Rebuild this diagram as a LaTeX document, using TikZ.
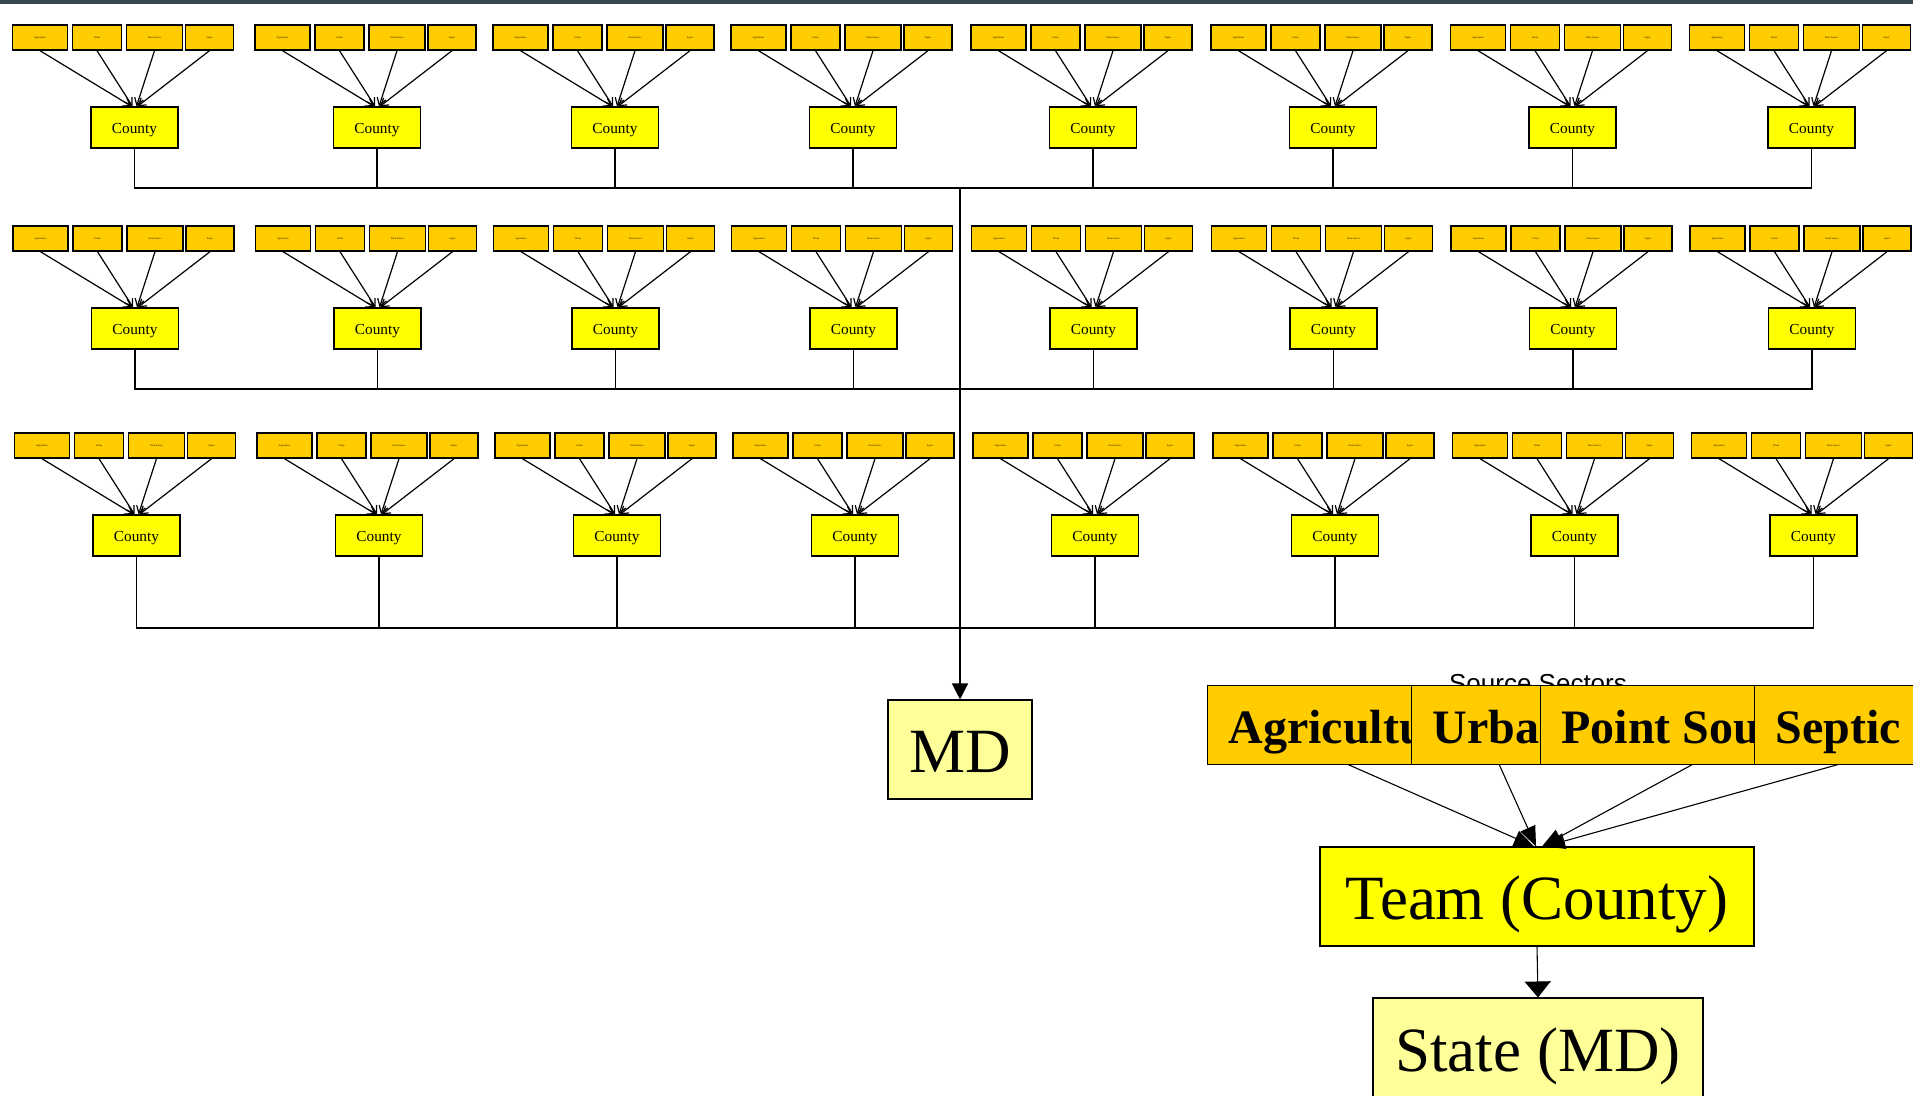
\documentclass[tikz,border=0pt]{standalone}
\usepackage{fontspec}
\setmainfont{Liberation Serif}
\newfontfamily\sansf{Liberation Sans}
\usetikzlibrary{arrows.meta}
\definecolor{gold}{HTML}{FFCC00}
\definecolor{yel}{HTML}{FFFF00}
\definecolor{paleyel}{HTML}{FFFF99}
\definecolor{topbar}{HTML}{37474F}
\begin{document}
\begin{tikzpicture}[x=1pt,y=-1pt,
  sbox/.style={draw,fill=gold,line width=1.4,inner sep=0,minimum height=25,font=\fontsize{2.5}{3}\selectfont},
  cbox/.style={draw,fill=yel,line width=1.4,inner sep=0,minimum width=87,text height=26,text depth=15,font=\fontsize{15.3}{18}\selectfont},
  feed/.style={line width=1.2,-{Straight Barb[length=7,width=9]}},
  busline/.style={line width=1.3},
  secbox/.style={draw,fill=gold,line width=1.0,anchor=west,inner xsep=21,inner ysep=0,text height=58,text depth=21,font=\fontsize{48}{55}\selectfont\bfseries},
  bigbox/.style={draw,line width=1.1,inner sep=0,text height=72,text depth=27,font=\fontsize{63}{70}\selectfont},
  tarr/.style={line width=1.1,-{Triangle[length=20,width=16]}}
]
\clip (0,0) rectangle (1913,1095);
\fill[white] (0,0) rectangle (1913,1095);
\fill[topbar] (0,0) rectangle (1913,4);

\node[bigbox,fill=paleyel,minimum width=144] (md) at (960,749.5) {MD};

\foreach \rw/\ys/\yc/\yb/\dx in {1/37.5/127.5/188/0, 2/238.5/328.5/389/0.5, 3/445.5/535.5/628/2} {
  \coordinate (bus-\rw) at (960,\yb);
  \foreach \cl/\xx in {1/134.5,2/377,3/615,4/853,5/1093,6/1333,7/1572.5,8/1811.5} {
    \pgfmathsetmacro\cx{\xx+\dx}
    \node[sbox,minimum width=55] (ag-\rw-\cl) at (\cx-94.5,\ys) {Agriculture};
    \node[sbox,minimum width=49] (ur-\rw-\cl) at (\cx-37.5,\ys) {Urban};
    \node[sbox,minimum width=56] (ps-\rw-\cl) at (\cx+20,\ys) {Point Source};
    \node[sbox,minimum width=48] (se-\rw-\cl) at (\cx+75,\ys) {Septic};
    \node[cbox] (cty-\rw-\cl) at (\cx,\yc) {County};
    \draw[feed] (ag-\rw-\cl.south) -- ([xshift=-3]cty-\rw-\cl.north);
    \draw[feed] (ur-\rw-\cl.south) -- ([xshift=-2]cty-\rw-\cl.north);
    \draw[feed] (ps-\rw-\cl.south) -- ([xshift=2]cty-\rw-\cl.north);
    \draw[feed] (se-\rw-\cl.south) -- ([xshift=3]cty-\rw-\cl.north);
    \draw[busline] (cty-\rw-\cl.south) |- (bus-\rw);
  }
}
\draw[busline,-{Triangle[length=16,width=16]}] (bus-1) -- (md.north);

% legend
\node[font=\sansf\fontsize{26}{30}\selectfont,anchor=base] (srclabel) at (1538,692) {Source Sectors};
\node[secbox] (agri) at (1207,724.5) {Agriculture};
\node[secbox] (urb) at (1411,724.5) {Urban};
\node[secbox] (pts) at (1540,724.5) {Point Source};
\node[secbox] (sep) at (1754,724.5) {Septic};

\node[bigbox,fill=yel,minimum width=434] (team) at (1537,896.5) {Team (County)};
\node[bigbox,fill=paleyel,minimum width=330,text height=73,text depth=40] (state) at (1538,1054.5) {State (MD)};

\draw[tarr] (agri.south) -- ([xshift=-3]team.north);
\draw[tarr] (urb.south) -- ([xshift=-1]team.north);
\draw[tarr] (pts.south) -- ([xshift=5]team.north);
\draw[tarr] (sep.south) -- ([xshift=8]team.north);
\draw[line width=1.1,-{Triangle[length=16,width=26]}] (team.south) -- (state.north);
\end{tikzpicture}
\end{document}
